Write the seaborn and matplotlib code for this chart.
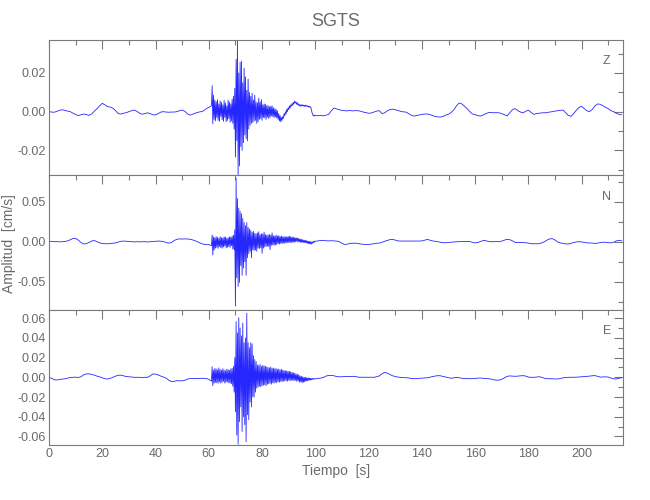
import numpy as np
import pandas as pd
import matplotlib
matplotlib.use('Agg')
import matplotlib.pyplot as plt
from matplotlib.ticker import MultipleLocator, FuncFormatter
import seaborn as sns

# amplitudes, in units of 1e-4 cm/s
AMP_UNIT = 1e-4

# time samples: 1 s before the event, 0.25 s through the strong motion, 1 s after
t_pre = np.arange(0, 61, 1.0)
t_burst = np.arange(61, 100, 0.25)
t_post = np.arange(100, 216, 1.0)

# --- Z component ---
z_pre = [0, -2, -3, 2, 7, 10, 6, 3, 0, -8,
         -15, -20, -16, -12, -15, -19, -12, 2, 15, 30,
         43, 35, 26, 24, 18, 5, -10, -12, -8, -5,
         0, 5, 8, 2, -8, -13, -10, -6, -10, -16,
         -17, -10, -2, 0, -2, -3, -2, -2, 0, 5,
         8, 2, -12, -18, -13, -7, -3, 0, 4, 15,
         22]
z_burst = [30, 134, -63, 85, -40, 60, -48, 52, -30, 62, -45, 40,
           -50, 55, -25, 48, -42, 35, -50, 58, -30, 45, -52, 30,
           -45, 60, -35, 50, -55, 40, -48, 65, -60, 80, -90, 120,
           -235, 270, -150, 368, -325, 200, -280, 255, -180, 260, -200, 150,
           -160, 225, -120, 180, -140, 110, -150, 168, -90, 100, -70, 80,
           -60, 95, -55, 60, -50, 85, -45, 50, -60, 45, -52, 70,
           -40, 50, -35, 62, -45, 35, -30, 40, -32, 38, -40, 30,
           -28, 32, -35, 25, -30, 28, -22, 30, -25, 20, -30, 15,
           -28, 12, -32, 5, -40, -10, -48, -20, -52, -30, -45, -25,
           -35, -10, -22, 0, -12, 12, 0, 20, 10, 30, 18, 35,
           28, 42, 32, 48, 40, 55, 45, 50, 38, 46, 33, 40,
           30, 36, 28, 35, 30, 36, 29, 33, 27, 34, 28, 32,
           26, 30, 24, 28, 22, 25, 10, -5, -15, -22, -18, -23]
z_post = [-20, -21, -19, -22, -18, -14, 5, 19, 14, 10,
          6, 5, 4, 6, 4, 5, 5, 2, -2, -5,
          -8, -7, -2, 3, 5, -10, -6, 4, 11, 13,
          10, 6, 2, -1, -2, -10, -18, -23, -20, -17,
          -14, -12, -12, -15, -20, -25, -27, -28, -24, -18,
          -13, -4, 10, 30, 45, 40, 28, 15, 0, -12,
          -16, -20, -23, -17, -10, -5, -4, -6, -5, -6,
          -10, -16, -22, -5, 10, 16, 5, -2, -6, 2,
          8, -4, -14, -10, -8, -6, -6, -4, -2, 0,
          3, 5, 7, 8, -6, -20, -24, -10, 8, 22,
          27, 15, 4, 1, 12, 30, 40, 38, 30, 22,
          15, 5, 0, -8, -14, -16]

# --- N component ---
n_pre = [0, 2, 0, 1, -2, 0, 3, 10, 25, 40,
         42, 20, -10, -28, -25, -10, 8, 15, 0, -15,
         -22, -25, -26, -22, -18, -15, -5, 5, 8, 6,
         2, 0, -2, 0, -2, 0, 0, -3, 0, 2,
         5, 8, 6, 2, -10, -18, -10, 15, 30, 35,
         33, 35, 34, 30, 22, 10, -5, -20, -32, -35,
         -36]
n_burst = [-50, 84, -166, 60, -104, 50, -80, 63, -70, 55, -83, 40,
           -60, 63, -75, 50, -80, 45, -65, 60, -55, 58, -78, 42,
           -70, 50, -60, 62, -72, 55, -50, 70, -90, 80, -100, 150,
           -805, 790, -450, 540, -560, 420, -510, 380, -300, 350, -420, 290,
           -330, 240, -250, 200, -420, 240, -200, 180, -150, 160, -120, 140,
           -200, 120, -100, 130, -110, 105, -104, 100, -120, 110, -80, 125,
           -85, 90, -75, 100, -145, 95, -80, 120, -65, 90, -60, 80,
           -55, 85, -60, 90, -100, 80, -45, 110, -40, 75, -45, 70,
           -40, 84, -35, 70, -25, 75, -30, 65, -20, 70, -25, 60,
           -15, 65, -20, 60, -15, 60, -10, 65, -10, 68, -12, 60,
           -8, 60, -5, 55, -10, 50, 0, 50, 5, 45, -5, 40,
           0, 35, -10, 30, -8, 25, -10, 20, -12, 18, -15, 12,
           -20, 8, -25, 5, -28, 0, -30, -5, -20, 5, -10, 8]
n_post = [5, 10, 15, 17, 12, 10, 12, 10, 8, 0,
          -20, -35, -30, -22, -20, -18, -22, -29, -32, -35,
          -35, -30, -25, -20, -18, -8, 5, 15, 26, 30,
          20, 10, 8, 8, 8, 7, 8, 8, 7, 8,
          10, 18, 29, 20, 10, 5, 0, -8, -12, -13,
          -10, -6, -3, 0, 0, 2, 3, 4, 2, -8,
          -15, -10, 2, 15, 12, 3, 0, 0, 2, 0,
          8, 20, 29, 25, 10, -8, -10, -10, -12, -13,
          -18, -25, -26, -25, -25, -15, 0, 20, 35, 38,
          20, -4, -15, -22, -27, -29, -20, -10, -2, 0,
          -3, -8, -15, -15, -18, -21, -18, -10, -6, -8,
          -12, -15, -5, 10, 15, 12]

# --- E component ---
e_pre = [0, -10, -25, -27, -22, -18, -15, -8, -2, 0,
         2, -2, 5, 25, 34, 35, 30, 22, 12, 5,
         -5, -15, -17, -10, 0, 12, 20, 22, 15, 8,
         5, 3, 0, 0, 0, -2, 0, 0, 15, 34,
         32, 24, 12, 2, -8, -30, -44, -40, -34, -35,
         -36, -30, -18, -13, -12, -13, -12, -12, -10, -13,
         -20]
e_burst = [-40, 108, -85, 70, -60, 90, -50, 85, -55, 75, -61, 95,
           -45, 80, -60, 70, -50, 88, -40, 75, -58, 65, -50, 82,
           -45, 78, -55, 70, -60, 85, -65, 90, -90, 110, -150, 200,
           -350, 565, -585, 450, -680, 605, -450, 500, -300, 420, -550, 550,
           -400, 350, -480, 400, -654, 650, -380, 350, -430, 300, -250, 350,
           -300, 340, -200, 220, -200, 180, -150, 160, -110, 125, -100, 120,
           -90, 130, -95, 110, -85, 120, -80, 115, -75, 110, -85, 105,
           -70, 100, -65, 95, -60, 105, -70, 90, -55, 95, -60, 85,
           -50, 90, -55, 80, -45, 85, -50, 75, -40, 80, -45, 72,
           -40, 70, -35, 65, -35, 65, -40, 60, -30, 60, -35, 55,
           -30, 50, -30, 45, -35, 40, -30, 35, -40, 30, -35, 25,
           -50, 15, -45, 10, -55, 5, -50, 0, -45, 0, -40, -5,
           -35, -5, -30, -8, -30, -10, -25, -12, -22, -10, -20, -15]
e_post = [-15, -12, -8, -2, 13, 18, 20, 15, 8, 5,
          6, 7, 8, 9, 10, 8, 2, 0, 1, 0,
          0, 1, 0, 6, 14, 35, 50, 42, 28, 15,
          8, 2, -1, -3, -5, -6, -12, -14, -12, -10,
          -8, -7, -5, 0, 8, 13, 17, 15, 8, 2,
          -4, -10, -5, 0, -5, -10, -14, -12, -14, -14,
          -12, -8, -7, -10, -13, -14, -18, -25, -30, -28,
          -20, -5, 10, 14, 12, 10, 12, 15, 17, 12,
          2, 0, 0, 2, 6, 0, -10, -14, -15, -16,
          -16, -17, -12, -5, -2, 0, 0, 0, 1, 3,
          5, 7, 8, 12, 16, 17, 10, 2, 3, 5,
          2, -8, -15, -17, -8, -5]

components = ['Z', 'N', 'E']
traces = {'Z': (z_pre, z_burst, z_post),
          'N': (n_pre, n_burst, n_post),
          'E': (e_pre, e_burst, e_post)}
y_limits = {'Z': (-0.0327, 0.037), 'N': (-0.0854, 0.0834), 'E': (-0.0687, 0.0683)}
y_steps = {'Z': (0.02, 0.01), 'N': (0.05, 0.025), 'E': (0.02, 0.01)}

frames = []
for comp in components:
    pre, burst, post = traces[comp]
    t = np.concatenate([t_pre, t_burst, t_post])
    amp = np.concatenate([pre, burst, post]) * AMP_UNIT
    frames.append(pd.DataFrame({'comp': comp, 'tiempo': t, 'amp': amp}))
df = pd.concat(frames, ignore_index=True)

sns.set_style('white')
plt.rcParams['font.family'] = ['Liberation Sans Narrow', 'Liberation Sans', 'DejaVu Sans']

GRAY = '#7a7a7a'
TEXT = '#6a6a6a'
LINE = '#2626ff'

fig = plt.figure(figsize=(6.5, 5), dpi=100)
left, width = 49 / 650, 574 / 650
panel_h = 135 / 500
tops = [40, 175, 310]

axes = []
for i, comp in enumerate(components):
    bottom = 1 - (tops[i] + 135) / 500
    ax = fig.add_axes([left, bottom, width, panel_h])
    sub = df[df['comp'] == comp]
    sns.lineplot(data=sub, x='tiempo', y='amp', ax=ax, color=LINE,
                 linewidth=0.6, estimator=None, sort=False, legend=False)
    ax.set_xlim(0, 215.5)
    ax.set_ylim(*y_limits[comp])
    major, minor = y_steps[comp]
    ax.yaxis.set_major_locator(MultipleLocator(major))
    ax.yaxis.set_minor_locator(MultipleLocator(minor))
    ax.yaxis.set_major_formatter(FuncFormatter(lambda v, p: f'{round(v, 2) + 0:.2f}'))
    ax.xaxis.set_major_locator(MultipleLocator(20))
    ax.xaxis.set_minor_locator(MultipleLocator(10))
    ax.tick_params(which='both', direction='in', top=True, right=True,
                   color=GRAY, labelcolor=TEXT, labelsize=9, width=0.8, pad=2)
    ax.tick_params(which='major', length=6.5)
    ax.tick_params(which='minor', length=3.5)
    if i < 2:
        ax.tick_params(labelbottom=False)
    for sp in ax.spines.values():
        sp.set_color(GRAY)
        sp.set_linewidth(0.8)
    ax.set_xlabel('')
    ax.set_ylabel('')
    ax.text(0.972, 1 - 21.5 / 135, comp, transform=ax.transAxes,
            ha='center', va='center', color=TEXT, fontsize=9)
    axes.append(ax)

fig.text(336 / 650, 1 - 21 / 500, 'SGTS', ha='center', va='center',
         color=TEXT, fontsize=13)
fig.text(336 / 650, 1 - 471 / 500, 'Tiempo  [s]', ha='center', va='center',
         color=TEXT, fontsize=10)
fig.text(9 / 650, 1 - 244 / 500, 'Amplitud  [cm/s]', ha='center', va='center',
         rotation=90, color=TEXT, fontsize=10)

fig.savefig('out.png', dpi=100, facecolor='white')
